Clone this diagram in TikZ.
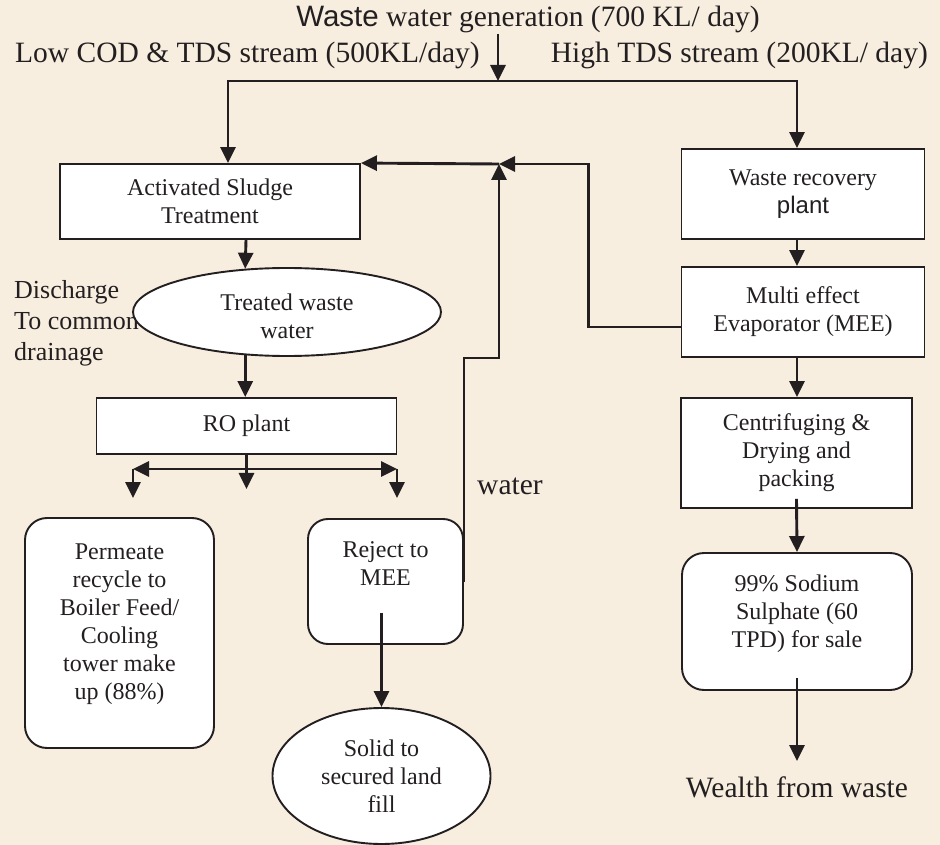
\documentclass[tikz,border=0pt]{standalone}
\usepackage{fontspec}
\setmainfont{Liberation Serif}
\newfontfamily\arialfont{Liberation Sans}
\usetikzlibrary{
    arrows.meta,
    calc,
    shapes.geometric
}
\definecolor{paper}{RGB}{247,238,224}
\definecolor{ink}{RGB}{35,31,32}

\begin{document}
\begin{tikzpicture}[
        x=1pt, y=-1pt,
        every node/.style={font=\fontsize{24}{28}\selectfont, text=ink},
        process/.style={
            rectangle,
            draw=ink,
            line width=1.9pt,
            fill=white,
            align=center,
            inner sep=2pt
        },
        product/.style={process, rounded corners=22pt},
        pool/.style={
            ellipse,
            draw=ink,
            line width=1.9pt,
            fill=white,
            align=center,
            inner sep=0pt
        },
        heading/.style={font=\fontsize{29.5}{33}\selectfont, inner sep=0pt},
        note/.style={font=\fontsize{26}{31}\selectfont, align=left, inner sep=0pt},
        flow/.style={-{Triangle[length=16pt,width=15pt]}, line width=2.9pt, draw=ink},
        twoway/.style={flow, {Triangle[length=16pt,width=15pt]}-{Triangle[length=16pt,width=15pt]}}
    ]
        \path[use as bounding box, fill=paper] (0,0) rectangle (940,845);

        \node[note, anchor=north west] (discharge) at (14,280) {Discharge\\To common\\drainage};
        \node[heading, anchor=base] (gen) at (528,27) {{\arialfont Waste} water generation (700 KL/ day)};
        \node[heading, anchor=base west] (low) at (15,63) {Low COD \& TDS stream (500KL/day)};
        \node[heading, anchor=base east] (high) at (928,63) {High TDS stream (200KL/ day)};

        \node[process, minimum width=300pt, minimum height=75pt] (asp) at (210,201.5)
            {Activated Sludge\\Treatment};
        \node[pool, minimum width=308pt, minimum height=88pt, text height=52pt, text depth=0pt] (treated) at (287,312)
            {Treated waste\\water};
        \node[process, minimum width=300pt, minimum height=56pt] (ro) at (246.5,426) {RO plant};
        \node[product, minimum width=189pt, minimum height=230pt, text depth=23pt] (permeate) at (119.5,633)
            {Permeate\\recycle to\\Boiler Feed/\\Cooling\\tower make\\up (88\%)};
        \node[product, rounded corners=20pt, minimum width=155pt, minimum height=125pt, text depth=36pt] (reject) at (385.5,581.5)
            {Reject to\\MEE};
        \node[pool, minimum width=218pt, minimum height=136pt] (solid) at (381.5,776)
            {Solid to\\secured land\\fill};

        \node[process, minimum width=243pt, minimum height=90pt] (wrp) at (803,194)
            {Waste recovery\\{\arialfont plant}};
        \node[process, minimum width=243pt, minimum height=90pt] (mee) at (803,312)
            {Multi effect\\Evaporator (MEE)};
        \node[process, minimum width=231pt, minimum height=110pt] (cdp) at (796.5,453)
            {Centrifuging \&\\Drying and\\packing};
        \node[product, minimum width=230pt, minimum height=137pt, text depth=21pt] (sodium) at (797,621.5)
            {99\% Sodium\\Sulphate (60\\TPD) for sale};
        \node[heading, anchor=base] (wealth) at (797,797) {Wealth from waste};
        \node[heading, anchor=base west] (water) at (477,494) {water};

        \coordinate (split) at (498,81);
        \coordinate (wjoin) at (499,164);
        \coordinate (romid) at ([yshift=-34pt]ro.south);
        \coordinate (barl) at (133,469);
        \coordinate (barr) at (397,469);
        \coordinate (permin) at (133,498);
        \coordinate (rejin) at (397,498);
        \coordinate (rejout) at ([yshift=-31pt]reject.center);

        \draw[flow] (gen.south -| split) -- (split);
        \draw[flow] (split) -| ([xshift=18pt]asp.north);
        \draw[flow] (split) -| ([xshift=-6pt]wrp.north);
        \draw[flow] ([xshift=36pt]asp.south) -- (treated.134);
        \draw[flow] (treated.226) -- (treated.226 |- ro.north);
        \draw[flow] (ro.south) -- (romid);
        \draw[twoway] (barl) -- (barr);
        \draw[flow] (barl) -- (permin);
        \draw[flow] (barr) -- (rejin);
        \draw[flow] (rejout -| solid.north) -- (solid.north);
        \draw[flow] (reject.east) -- (reject.east |- mee.south) -| (wjoin);
        \draw[flow] ([yshift=-15pt]mee.west) -- ++(-92,0) |- (wjoin);
        \draw[flow] (wjoin) -- (asp.north east);
        \draw[flow] ([xshift=-6pt]wrp.south) -- ([xshift=-6pt]mee.north);
        \draw[flow] ([xshift=-6pt]mee.south) -- ([xshift=-6pt]mee.south |- cdp.north);
        \draw[flow] ([yshift=10pt]cdp.south) -- (sodium.north);
        \draw[flow] ([yshift=13pt]sodium.south) -- ([yshift=15pt]wealth.north);
    \end{tikzpicture}
\end{document}
